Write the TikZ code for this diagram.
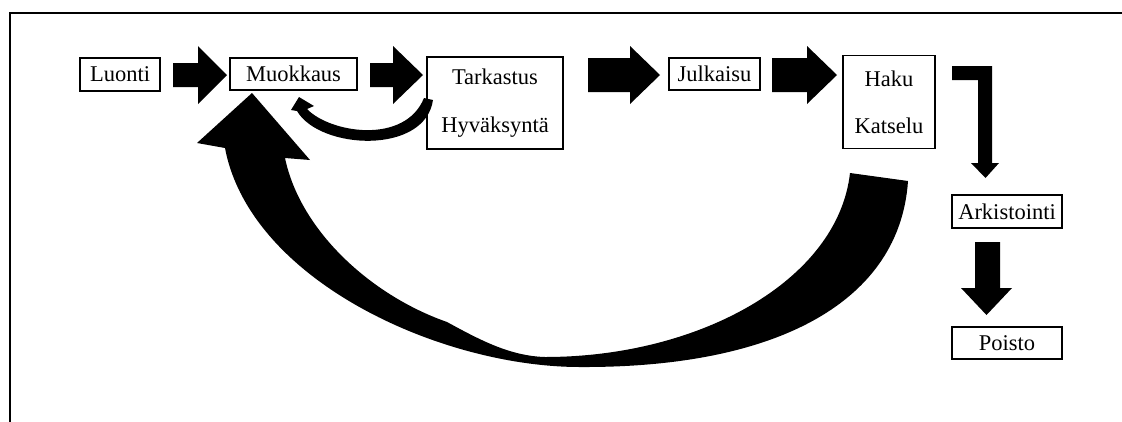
\documentclass[tikz,border=0pt]{standalone}
\usepackage{fontspec}
\setmainfont{Liberation Serif}

\begin{document}
\begin{tikzpicture}[x=1pt, y=-1pt,
  stage/.style={draw, line width=1.3pt, inner sep=0pt, align=center,
    font=\fontsize{22.5}{27}\selectfont}]
\useasboundingbox (0,0) rectangle (1122,421);
\clip (0,0) rectangle (1122,421);
% frame
\draw[line width=2pt] (10,440) -- (10,13) -- (1140,13);
% stages
\node[stage, minimum width=80pt, minimum height=33pt] (luonti) at (120,74.5) {Luonti};
\node[stage, minimum width=127pt, minimum height=32pt] (muokkaus) at (293.5,74) {Muokkaus};
\node[stage, minimum width=136pt, minimum height=92pt] (tarkastus) at (495,103) {Tarkastus\\[21pt]Hyväksyntä};
\node[stage, minimum width=91pt, minimum height=32pt] (julkaisu) at (714.5,74) {Julkaisu};
\node[stage, minimum width=92pt, minimum height=93pt] (haku) at (889,102) {Haku\\[20pt]Katselu};
\node[stage, minimum width=110pt, minimum height=33pt] (arkistointi) at (1007,211.5) {Arkistointi};
\node[stage, minimum width=110pt, minimum height=32pt] (poisto) at (1007,343) {Poisto};
% block arrows along the top row
\foreach \xa/\xb/\xc/\s in {173/198/227/12, 370/393/423/12, 588/630/660/17, 772/807/837/17}
  \fill (\xa,75-\s) -- (\xb,75-\s) -- (\xb,46) -- (\xc,75) -- (\xb,104)
    -- (\xb,75+\s) -- (\xa,75+\s) -- cycle;
% bent arrow down to archive
\fill (952,66) -- (992,66) -- (992,163) -- (999,163) -- (985.5,178) -- (971,163)
  -- (978,163) -- (978,80) -- (952,80) -- cycle;
% arrow down to removal
\fill (975,242) -- (1000,242) -- (1000,288) -- (1012,288) -- (986.5,315)
  -- (961,288) -- (975,288) -- cycle;
% small curved arrow back to editing
\fill (299,97) -- (314,106) -- (307,109)
  .. controls (330,133) and (405,145) .. (424,98)
  -- (433,100) .. controls (425,155) and (320,150) .. (297,111)
  -- (291,110) -- cycle;
% big curved arrow back to editing
\fill (252,93) -- (310,160) -- (285,158)
  .. controls (300,230) and (370,295) .. (447,322)
  .. controls (480,340) and (510,356) .. (545,357)
  .. controls (700,357) and (838,280) .. (850,173)
  -- (908,181) .. controls (900,300) and (780,368) .. (580,367)
  .. controls (440,367) and (250,280) .. (225,148)
  -- (197,143) -- cycle;
\end{tikzpicture}
\end{document}
